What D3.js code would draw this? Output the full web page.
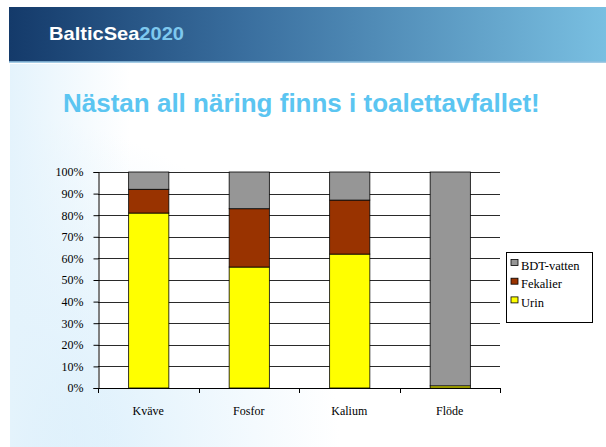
<!DOCTYPE html>
<html><head><meta charset="utf-8">
<script src="https://cdn.jsdelivr.net/npm/d3@7"></script>
<style>html,body{margin:0;padding:0;background:#fff;}svg{display:block;}</style>
</head><body>
<script>
const categories = ["Kväve", "Fosfor", "Kalium", "Flöde"];
const urin = [81, 56, 62, 1];
const fekalier = [11, 27, 25, 0];
const bdtVatten = [8, 17, 13, 99];
const seriesNames = ["Urin", "Fekalier", "BDT-vatten"];
const seriesColors = ["#ffff00", "#993300", "#969696"];
const yTicks = [0, 10, 20, 30, 40, 50, 60, 70, 80, 90, 100];
const title = "Nästan all näring finns i toalettavfallet!";

const W = 606, H = 447;
const SERIF = "Liberation Serif, DejaVu Serif, Times New Roman, Times, serif";
const svg = d3.select("body").append("svg").attr("width", W).attr("height", H);
const defs = svg.append("defs");

// slide background
const bg = defs.append("radialGradient").attr("id", "bgGrad")
  .attr("gradientUnits", "userSpaceOnUse").attr("cx", 10).attr("cy", 447).attr("r", 330)
  .attr("fx", 10).attr("fy", 447);
bg.append("stop").attr("offset", "0").attr("stop-color", "#d4ecfb");
bg.append("stop").attr("offset", "1").attr("stop-color", "#ffffff");
const bg2 = defs.append("linearGradient").attr("id", "bgGrad2")
  .attr("gradientUnits", "userSpaceOnUse").attr("x1", 10).attr("x2", 130).attr("y1", 0).attr("y2", 0);
bg2.append("stop").attr("offset", "0").attr("stop-color", "#e4f3fc");
bg2.append("stop").attr("offset", "1").attr("stop-color", "#e4f3fc").attr("stop-opacity", 0);
svg.append("rect").attr("x", 10).attr("y", 0).attr("width", W - 10).attr("height", H).attr("fill", "url(#bgGrad)");
svg.append("rect").attr("x", 10).attr("y", 64).attr("width", 130).attr("height", H - 64).attr("fill", "url(#bgGrad2)");

// banner
const bn = defs.append("linearGradient").attr("id", "banner").attr("x1", 0).attr("x2", 1).attr("y1", 0).attr("y2", 0);
bn.append("stop").attr("offset", "0").attr("stop-color", "#143a6a");
bn.append("stop").attr("offset", "0.4").attr("stop-color", "#3a6f9f");
bn.append("stop").attr("offset", "1").attr("stop-color", "#79bfe1");
svg.append("rect").attr("x", 9).attr("y", 7).attr("width", W - 9).attr("height", 55).attr("fill", "url(#banner)");
svg.append("rect").attr("x", 9).attr("y", 61).attr("width", W - 9).attr("height", 2).attr("fill", "#8fbfdf").attr("opacity", 0.8);
const logo = svg.append("text").attr("x", 49).attr("y", 39.5)
  .attr("font-family", "Liberation Sans, Arial, sans-serif").attr("font-size", 19).attr("font-weight", "bold")
  .attr("textLength", 135).attr("lengthAdjust", "spacingAndGlyphs");
logo.append("tspan").attr("fill", "#ffffff").text("BalticSea");
logo.append("tspan").attr("fill", "#7ec8ee").text("2020");

// title
svg.append("text").attr("x", 63).attr("y", 112).attr("font-family", "Liberation Sans, Arial, sans-serif")
  .attr("font-size", 26).attr("font-weight", "bold").attr("fill", "#5bc5f1").text(title);

// chart
const x = d3.scaleBand().domain(categories).range([98, 500]).paddingInner(0.6).paddingOuter(0.3);
const y = d3.scaleLinear().domain([0, 100]).range([388, 172]);

const g = svg.append("g");
g.append("rect").attr("x", 98).attr("y", 172).attr("width", 402).attr("height", 216).attr("fill", "#fff");

g.selectAll("line.grid").data(yTicks.filter(d => d > 0)).join("line")
  .attr("x1", 98).attr("x2", 500).attr("y1", d => Math.round(y(d)) + 0.5).attr("y2", d => Math.round(y(d)) + 0.5)
  .attr("stroke", "#2a2a2a").attr("stroke-width", 1);

const rows = categories.map((c, i) => ({ cat: c, Urin: urin[i], Fekalier: fekalier[i], "BDT-vatten": bdtVatten[i] }));
const stack = d3.stack().keys(seriesNames)(rows);
g.selectAll("g.series").data(stack).join("g")
  .attr("fill", (d, i) => seriesColors[i])
  .selectAll("rect").data(d => d).join("rect")
  .attr("x", d => x(d.data.cat) + 0.5)
  .attr("width", x.bandwidth())
  .attr("y", d => y(d[1]))
  .attr("height", d => y(d[0]) - y(d[1]))
  .attr("stroke", "#000").attr("stroke-width", 0.8);

// y axis
const yAxis = d3.axisLeft(y).tickValues(yTicks).tickFormat(d => d + "%").tickSize(5).tickPadding(10);
const ya = svg.append("g").attr("transform", "translate(98.5,0)").call(yAxis);
ya.attr("font-family", SERIF).attr("font-size", 12);
ya.selectAll("text").attr("fill", "#000");
ya.select(".domain").attr("stroke", "#000");
ya.selectAll(".tick line").attr("stroke", "#000");

// x axis
const xa = svg.append("g");
xa.append("line").attr("x1", 98).attr("x2", 500).attr("y1", 388.5).attr("y2", 388.5).attr("stroke", "#000");
const bounds = d3.range(categories.length + 1).map(i => x.range()[0] + i * x.step());
xa.selectAll("line.bt").data(bounds).join("line").attr("class", "bt")
  .attr("x1", d => Math.round(d) + 0.5).attr("x2", d => Math.round(d) + 0.5)
  .attr("y1", 388).attr("y2", 393).attr("stroke", "#000");
const xAxis = d3.axisBottom(x).tickSize(0).tickPadding(18);
const xg = svg.append("g").attr("transform", "translate(0,388)").call(xAxis);
xg.attr("font-family", SERIF).attr("font-size", 12);
xg.select(".domain").remove();
xg.selectAll("text").attr("fill", "#000");

// legend
const lg = svg.append("g").attr("font-family", SERIF).attr("font-size", 12.5);
lg.append("rect").attr("x", 506.5).attr("y", 252.5).attr("width", 86).attr("height", 70)
  .attr("fill", "#fff").attr("stroke", "#000");
const legendOrder = ["BDT-vatten", "Fekalier", "Urin"];
const items = lg.selectAll("g.item").data(legendOrder).join("g")
  .attr("transform", (d, i) => `translate(0,${i * 18.7})`);
items.append("rect").attr("x", 511).attr("y", 259.5).attr("width", 7).attr("height", 6)
  .attr("fill", d => seriesColors[seriesNames.indexOf(d)]).attr("stroke", "#000").attr("stroke-width", 0.8);
items.append("text").attr("x", 521).attr("y", 269.5).attr("fill", "#000").text(d => d);
</script>
</body></html>
